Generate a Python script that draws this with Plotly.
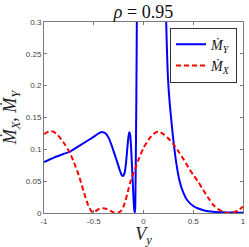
import plotly.graph_objects as go

# Blue curve: M_Y dot
vy_y = [-1.0, -0.9, -0.8, -0.745, -0.65, -0.548, -0.48, -0.44, -0.41, -0.38, -0.35, -0.32, -0.29,
        -0.26, -0.24, -0.22, -0.205, -0.19, -0.175, -0.16, -0.15, -0.142, -0.135, -0.125, -0.113,
        -0.102, -0.094, -0.089, -0.085, -0.081, -0.077, -0.072, -0.067, -0.062,
        0.20, 0.228, 0.245, 0.261, 0.277, 0.304, 0.33, 0.36, 0.40, 0.44, 0.50, 0.55,
        0.61, 0.70, 0.80, 0.90, 1.0]
my = [0.080, 0.087, 0.093, 0.096, 0.105, 0.115, 0.122, 0.126, 0.127, 0.125, 0.118, 0.106, 0.092,
      0.078, 0.068, 0.060, 0.058, 0.063, 0.080, 0.106, 0.121, 0.127, 0.124, 0.103, 0.065,
      0.028, 0.007, 0.001, 0.004, 0.03, 0.09, 0.18, 0.30, 0.45,
      0.50, 0.30, 0.215, 0.177, 0.150, 0.109, 0.078, 0.052, 0.032, 0.020, 0.011, 0.007,
      0.004, 0.002, 0.001, 0.0006, 0.0004]

# Red dashed curve: M_X dot
vy_x = [-1.0, -0.95, -0.91, -0.86, -0.8, -0.745, -0.7, -0.646, -0.6, -0.55, -0.51, -0.48,
        -0.44, -0.39, -0.34, -0.30, -0.25, -0.22, -0.19, -0.16, -0.13, -0.10, -0.05, 0.0,
        0.05, 0.10, 0.15, 0.20, 0.25, 0.30, 0.35, 0.40, 0.45, 0.50, 0.55, 0.60, 0.65,
        0.70, 0.75, 0.80, 0.85, 0.90, 0.95, 1.0]
mx = [0.124, 0.128, 0.128, 0.122, 0.110, 0.096, 0.080, 0.057, 0.033, 0.010, 0.001, 0.003,
      0.007, 0.007, 0.004, 0.001, 0.001, 0.004, 0.015, 0.032, 0.050, 0.063, 0.084, 0.102,
      0.115, 0.124, 0.128, 0.124, 0.117, 0.108, 0.097, 0.085, 0.072, 0.060, 0.049, 0.036, 0.024,
      0.013, 0.006, 0.002, 0.0, 0.001, 0.004, 0.010]

x_ticks = [-1, -0.5, 0, 0.5, 1]
x_labels = ["-1", "-0.5", "0", "0.5", "1"]
y_ticks = [0, 0.05, 0.1, 0.15, 0.2, 0.25, 0.3]
y_labels = ["0", "0.05", "0.1", "0.15", "0.2", "0.25", "0.3"]

serif = "Liberation Serif, DejaVu Serif, serif"
axcol = "#7a7a7a"

fig = go.Figure()
fig.add_trace(go.Scatter(x=vy_y, y=my, mode="lines", name="<i>Ṁ</i><sub><i>Y</i></sub>",
                         line=dict(color="#0000ff", width=2, shape="spline", smoothing=0.8)))
fig.add_trace(go.Scatter(x=vy_x, y=mx, mode="lines", name="<i>Ṁ</i><sub><i>X</i></sub>",
                         line=dict(color="#ff0000", width=2, dash="5px,3px", shape="spline", smoothing=0.8)))

axis_common = dict(showgrid=False, zeroline=False, showline=True, linecolor=axcol, linewidth=1,
                   mirror="ticks", ticks="inside", ticklen=3, tickcolor=axcol,
                   tickfont=dict(family="Liberation Sans, Arial, sans-serif", size=8, color="#444"))

fig.update_xaxes(range=[-1, 1], tickvals=x_ticks, ticktext=x_labels,
                 title=dict(text="<i>V</i><sub><i>y</i></sub>", font=dict(family=serif, size=18, color="#222"),
                            standoff=2), **axis_common)
fig.update_yaxes(range=[0, 0.3], tickvals=y_ticks, ticktext=y_labels,
                 title=dict(text="<i>Ṁ</i><sub><i>X</i></sub>, <i>Ṁ</i><sub><i>Y</i></sub>",
                            font=dict(family=serif, size=18, color="#222"), standoff=4), **axis_common)

fig.update_layout(
    width=249, height=247,
    margin=dict(l=44, r=3, t=22, b=34),
    paper_bgcolor="white", plot_bgcolor="white",
    title=dict(text="<i>ρ</i> = 0.95", xref="paper", x=0.5, xanchor="center",
               yref="container", y=0.952, yanchor="middle",
               font=dict(family=serif, size=18, color="#111")),
    legend=dict(x=0.97, y=0.97, xanchor="right", yanchor="top", bgcolor="white",
                bordercolor="#333", borderwidth=1, font=dict(family=serif, size=14, color="#111"),
                tracegroupgap=0, itemwidth=30),
    showlegend=True,
)

fig.write_html("out.html", config={"displayModeBar": False},
               post_script="document.body.style.margin='0';document.body.style.padding='0';")
